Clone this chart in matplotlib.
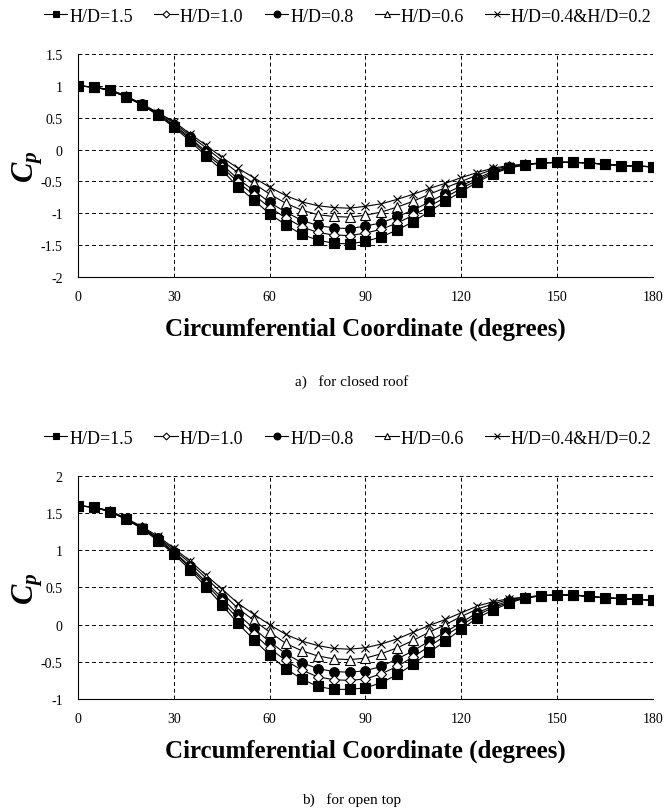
import matplotlib.pyplot as plt

plt.rcParams['font.family'] = ['Liberation Serif', 'DejaVu Serif']
plt.rcParams['mathtext.fontset'] = 'custom'
plt.rcParams['mathtext.it'] = 'Liberation Serif:bold:italic'
plt.rcParams['mathtext.rm'] = 'Liberation Serif:bold:italic'

# circumferential angle (degrees)
deg = list(range(0, 181, 5))

labels = ['H/D=1.5', 'H/D=1.0', 'H/D=0.8', 'H/D=0.6', 'H/D=0.4&H/D=0.2']

# a) closed roof
closed_15 = [1.00, 0.98, 0.93, 0.83, 0.70, 0.54, 0.35, 0.14, -0.10, -0.32, -0.58, -0.79, -1.01,
             -1.18, -1.33, -1.42, -1.47, -1.48, -1.44, -1.37, -1.26, -1.13, -0.97, -0.81, -0.66,
             -0.51, -0.38, -0.29, -0.24, -0.21, -0.20, -0.20, -0.21, -0.23, -0.25, -0.26, -0.27]
closed_10 = [1.00, 0.98, 0.93, 0.83, 0.70, 0.55, 0.37, 0.17, -0.06, -0.27, -0.51, -0.71, -0.91,
             -1.07, -1.21, -1.30, -1.34, -1.35, -1.31, -1.25, -1.15, -1.03, -0.89, -0.75, -0.61,
             -0.48, -0.36, -0.28, -0.24, -0.21, -0.20, -0.20, -0.21, -0.23, -0.25, -0.26, -0.27]
closed_08 = [1.00, 0.98, 0.93, 0.83, 0.71, 0.56, 0.39, 0.19, -0.03, -0.23, -0.46, -0.64, -0.83,
             -0.98, -1.11, -1.19, -1.23, -1.24, -1.20, -1.15, -1.05, -0.95, -0.82, -0.69, -0.57,
             -0.45, -0.34, -0.27, -0.24, -0.21, -0.20, -0.20, -0.21, -0.23, -0.25, -0.26, -0.27]
closed_06 = [1.00, 0.98, 0.94, 0.84, 0.71, 0.57, 0.42, 0.22, 0.03, -0.17, -0.36, -0.53, -0.70,
             -0.84, -0.95, -1.02, -1.05, -1.06, -1.03, -0.98, -0.90, -0.81, -0.70, -0.60, -0.50,
             -0.40, -0.31, -0.26, -0.23, -0.21, -0.20, -0.20, -0.21, -0.23, -0.25, -0.26, -0.27]
closed_04 = [1.00, 0.98, 0.94, 0.84, 0.72, 0.58, 0.44, 0.25, 0.07, -0.12, -0.29, -0.44, -0.59,
             -0.72, -0.82, -0.88, -0.91, -0.92, -0.89, -0.85, -0.78, -0.70, -0.61, -0.53, -0.44,
             -0.36, -0.29, -0.25, -0.23, -0.21, -0.20, -0.20, -0.21, -0.23, -0.25, -0.26, -0.27]

# b) open top
open_15 = [1.60, 1.58, 1.52, 1.42, 1.29, 1.13, 0.95, 0.74, 0.51, 0.27, 0.02, -0.20, -0.41,
           -0.59, -0.73, -0.83, -0.87, -0.87, -0.85, -0.78, -0.67, -0.53, -0.37, -0.22, -0.06,
           0.09, 0.20, 0.29, 0.36, 0.39, 0.40, 0.40, 0.38, 0.36, 0.35, 0.34, 0.33]
open_10 = [1.60, 1.58, 1.52, 1.42, 1.30, 1.14, 0.97, 0.77, 0.55, 0.32, 0.08, -0.12, -0.32,
           -0.48, -0.61, -0.70, -0.74, -0.75, -0.73, -0.66, -0.56, -0.43, -0.29, -0.15, -0.01,
           0.13, 0.23, 0.30, 0.36, 0.39, 0.40, 0.40, 0.38, 0.36, 0.35, 0.34, 0.33]
open_08 = [1.60, 1.58, 1.52, 1.42, 1.30, 1.16, 0.98, 0.79, 0.58, 0.36, 0.14, -0.05, -0.23,
           -0.39, -0.51, -0.59, -0.63, -0.64, -0.62, -0.56, -0.46, -0.35, -0.22, -0.10, 0.03,
           0.16, 0.25, 0.32, 0.36, 0.39, 0.40, 0.40, 0.38, 0.36, 0.35, 0.34, 0.33]
open_06 = [1.60, 1.58, 1.53, 1.43, 1.31, 1.17, 1.01, 0.83, 0.63, 0.43, 0.22, 0.06, -0.10,
           -0.25, -0.35, -0.42, -0.46, -0.47, -0.45, -0.39, -0.31, -0.21, -0.10, 0.00, 0.11,
           0.21, 0.28, 0.34, 0.37, 0.39, 0.40, 0.40, 0.38, 0.36, 0.35, 0.34, 0.33]
open_04 = [1.60, 1.58, 1.53, 1.43, 1.32, 1.19, 1.03, 0.86, 0.67, 0.48, 0.29, 0.14, 0.00,
           -0.13, -0.22, -0.28, -0.32, -0.33, -0.31, -0.26, -0.19, -0.10, -0.01, 0.07, 0.16,
           0.25, 0.31, 0.35, 0.37, 0.39, 0.40, 0.40, 0.38, 0.36, 0.35, 0.34, 0.33]

markers = ['s', 'D', 'o', '^', 'x']
faces = ['black', 'white', 'black', 'white', 'black']
sizes = [7, 5, 7, 7, 5.5]


def draw(ax, series, ylim, yticks, caption, cap_y):
    for i, vals in enumerate(series):
        ax.plot(deg, vals, color='black', lw=0.8, marker=markers[i], ms=sizes[i],
                mfc=faces[i], mec='black', mew=0.8, label=labels[i], zorder=6 - i)
    ax.set_xlim(0, 180)
    ax.set_ylim(*ylim)
    ax.set_xticks(range(0, 181, 30))
    ax.set_yticks(yticks)
    ax.set_yticklabels([('%g' % t) for t in yticks])
    ax.grid(True, color='black', ls=(0, (4, 3)), lw=0.7)
    ax.spines['top'].set_visible(False)
    ax.spines['right'].set_visible(False)
    ax.tick_params(length=0, labelsize=10)
    ax.tick_params(axis='x', pad=9)
    ax.tick_params(axis='y', pad=11)
    ax.set_xlabel('Circumferential Coordinate (degrees)', fontsize=18, fontweight='bold', labelpad=10)
    ax.text(-0.087, 0.5, '$C_p$', transform=ax.transAxes, rotation=90,
            fontsize=22, ha='center', va='center')
    ax.legend(loc='center', bbox_to_anchor=(0.469, 1.17), ncol=5, frameon=False,
              fontsize=13, handlelength=1.3, handletextpad=0.1, columnspacing=1.2,
              markerscale=0.7)
    fig.text(0.53, cap_y, caption, ha='center', va='center', fontsize=11)


fig = plt.figure(figsize=(6.64, 8.12), dpi=100)
ax1 = fig.add_axes([0.1175, 0.6576, 0.8659, 0.2747])
ax2 = fig.add_axes([0.1175, 0.1379, 0.8659, 0.2747])

draw(ax1, [closed_15, closed_10, closed_08, closed_06, closed_04], (-2, 1.5),
     [-2, -1.5, -1, -0.5, 0, 0.5, 1, 1.5], 'a)   for closed roof', 0.5296)
draw(ax2, [open_15, open_10, open_08, open_06, open_04], (-1, 2),
     [-1, -0.5, 0, 0.5, 1, 1.5, 2], 'b)   for open top', 0.0148)

fig.savefig('out.png', dpi=100)
